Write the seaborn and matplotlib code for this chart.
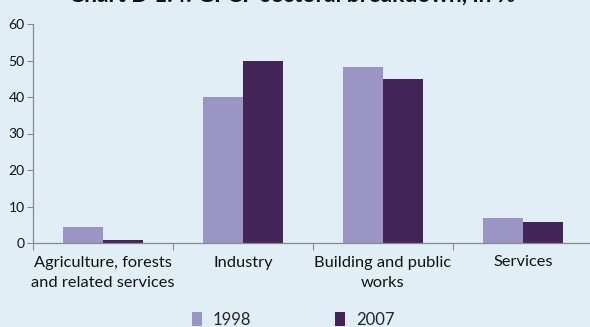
import matplotlib
matplotlib.use("Agg")
import matplotlib.pyplot as plt
from matplotlib.patches import Patch
import seaborn as sns
import pandas as pd

categories = ["Agriculture, forests\nand related services", "Industry",
              "Building and public\nworks", "Services"]
years = ["1998", "2007"]
values_1998 = [4.4, 40.0, 48.3, 6.9]
values_2007 = [0.8, 50.0, 45.0, 5.8]
y_ticks = [0, 10, 20, 30, 40, 50, 60]
title = "Chart D 1.4: GFCF sectoral breakdown, in %"

bg = "#e2eef5"
colors = {"1998": "#9a95c5", "2007": "#442356"}

df = pd.DataFrame({
    "sector": categories * 2,
    "year": [years[0]] * 4 + [years[1]] * 4,
    "share": values_1998 + values_2007,
})

sns.set_theme(style="white")
plt.rcParams["font.family"] = ["Lato", "DejaVu Sans"]

fig = plt.figure(figsize=(5.9, 3.27), dpi=100, facecolor=bg)
ax = fig.add_axes([33 / 590, 1 - 243 / 327, 560 / 590, (243 - 24) / 327])
ax.set_facecolor(bg)

sns.barplot(data=df, x="sector", y="share", hue="year", palette=colors,
            order=categories, hue_order=years, width=0.575, gap=0,
            saturation=1, linewidth=0, edgecolor="none", ax=ax, legend=False)

ax.set_xlim(-0.5, 3.5)
ax.set_ylim(0, 60)
ax.set_yticks(y_ticks)
ax.set_xlabel("")
ax.set_ylabel("")

for s in ["top", "right"]:
    ax.spines[s].set_visible(False)
for s in ["left", "bottom"]:
    ax.spines[s].set_color("#8a8a8a")
    ax.spines[s].set_linewidth(0.9)

ax.tick_params(axis="y", which="major", left=True, length=4, width=0.8,
               color="#8a8a8a", labelsize=10, pad=2, labelcolor="#111111")
ax.tick_params(axis="x", which="major", bottom=False, labelsize=11.8,
               pad=3, labelcolor="#111111")
ax.set_xticks([-0.5, 0.5, 1.5, 2.5, 3.5], minor=True)
ax.tick_params(axis="x", which="minor", bottom=True, length=5, width=0.8,
               color="#8a8a8a")
for lbl in ax.get_xticklabels():
    lbl.set_linespacing(1.6)

handles = [Patch(facecolor=colors[y], edgecolor="none", label=y) for y in years]
fig.legend(handles=handles, loc="center", bbox_to_anchor=(0.497, 1 - 320 / 327),
           ncol=2, frameon=False, fontsize=12, handlelength=0.6,
           handleheight=0.95, handletextpad=0.65, columnspacing=5.0)

fig.text(0.495, 1 - 2 / 327, title, ha="center", va="baseline",
         fontsize=16.5, fontweight="bold", color="#111111")

fig.savefig("out.png", dpi=100, facecolor=bg)
